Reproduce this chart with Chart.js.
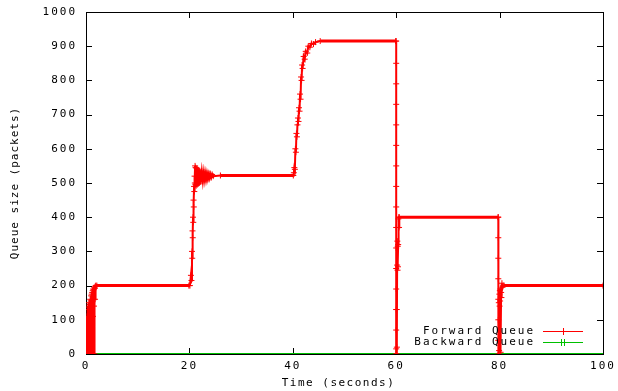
<!DOCTYPE html>
<html><head><meta charset="utf-8">
<script src="https://cdn.jsdelivr.net/npm/chart.js@4.4.0/dist/chart.umd.min.js"></script>
<style>html,body{margin:0;padding:0;background:#fff;}</style>
</head><body>
<canvas id="c" width="618" height="391"></canvas>
<script>
const xTicks = [0, 20, 40, 60, 80, 100];
const yTicks = [0, 100, 200, 300, 400, 500, 600, 700, 800, 900, 1000];

const fwdTime = [
  0.05, 0.1, 0.15, 0.2, 0.25, 0.3, 0.35, 0.4, 0.45, 0.5, 0.55, 0.6, 0.65, 0.7, 0.75, 0.8, 0.85, 0.9, 0.95, 1.0,
  1.05, 1.1, 1.15, 1.2, 1.25, 1.3, 1.35, 1.4, 1.45, 1.5, 1.55, 1.6, 1.65, 1.7, 1.75, 1.8, 1.9, 2.1,
  19.9, 20.1, 20.3, 20.4, 20.5, 20.55, 20.6, 20.65, 20.7, 20.75, 20.8, 20.85, 20.9, 20.95, 21.0, 21.05, 21.1, 21.15, 21.2,
  21.3, 21.4, 21.5, 21.6, 21.7, 21.8, 21.9, 22.0, 22.2, 22.4, 22.6, 22.8, 23.0, 23.2, 23.4, 23.6, 23.8, 24.0, 24.2, 24.4, 24.6, 26.0,
  40.1, 40.2, 40.3, 40.4, 40.5, 40.6, 40.7, 40.8, 40.9, 41.0, 41.1, 41.2, 41.3, 41.4, 41.5, 41.6, 41.7, 41.8, 41.9,
  42.1, 42.3, 42.5, 42.8, 43.0, 43.3, 43.6, 44.0, 44.4, 45.3,
  59.9, 60.0, 60.0, 60.0, 60.0, 60.0, 60.0, 60.0, 60.0, 60.0, 60.0, 60.0, 60.0, 60.0, 60.0, 60.0, 60.0, 60.0,
  60.05, 60.1, 60.13, 60.18, 60.22, 60.26, 60.3, 60.34, 60.38, 60.42, 60.5, 60.55, 60.6,
  79.7, 79.75, 79.75, 79.75, 79.75, 79.75, 79.75, 79.75,
  79.8, 79.85, 79.9, 79.95, 80.0, 80.05, 80.1, 80.15, 80.2, 80.3, 80.35, 80.45, 80.55, 80.7, 100
];
const fwdSize = [
  0, 60, 0, 110, 0, 130, 10, 140, 0, 135, 20, 150, 0, 145, 30, 160, 0, 155, 50, 170,
  0, 175, 80, 180, 0, 185, 110, 190, 0, 188, 140, 195, 0, 192, 160, 198, 200, 200,
  200, 200, 230, 215, 300, 280, 360, 340, 400, 385, 450, 430, 490, 475, 520, 500, 550, 495, 545,
  492, 542, 495, 540, 498, 538, 500, 536, 503, 534, 505, 532, 508, 530, 510, 528, 513, 527, 516, 525, 520, 522,
  522, 530, 545, 540, 600, 590, 645, 635, 670, 690, 680, 720, 710, 760, 745, 810, 800, 845, 835,
  870, 862, 885, 880, 900, 897, 908, 906, 912, 915,
  915, 915, 850, 790, 730, 670, 610, 550, 490, 430, 370, 310, 250, 190, 130, 70, 15, 0,
  0, 130, 20, 260, 330, 245, 315, 255, 320, 395, 400, 370, 400,
  400, 400, 340, 280, 220, 160, 100, 40,
  0, 150, 10, 175, 140, 185, 155, 190, 5, 180, 165, 207, 195, 200, 200
];
const bwdTime = [0, 10, 20, 30, 40, 50, 60, 70, 80, 90, 100];
const bwdSize = [0, 0, 0, 0, 0, 0, 0, 0, 0, 0, 0];

const seriesNames = ['Forward Queue', 'Backward Queue'];
const seriesColors = ['#ff0000', '#00c000'];
const FONT = '"DejaVu Sans Mono", "Liberation Mono", monospace';
const FSIZE = 11;

const spacingPlugin = {
  id: 'spacing',
  beforeUpdate(chart) { chart.ctx.letterSpacing = '2px'; },
  afterLayout(chart) {
    const ctx = chart.ctx;
    const xs = chart.scales.x, ys = chart.scales.y;
    if (!xs._gpPatched) {
      const orig = xs.drawTitle;
      xs.drawTitle = function () {
        ctx.save(); ctx.letterSpacing = '1.5px'; ctx.translate(-6, 0);
        orig.apply(this, arguments);
        ctx.restore();
      };
      xs._gpPatched = true;
    }
    if (!ys._gpPatched) {
      const orig = ys.drawTitle;
      ys.drawTitle = function () {
        ctx.save(); ctx.letterSpacing = '1px';
        orig.apply(this, arguments);
        ctx.restore();
      };
      ys._gpPatched = true;
    }
  },
  beforeDraw(chart) { chart.ctx.letterSpacing = '2px'; }
};

const framePlugin = {
  id: 'frame',
  beforeDatasetsDraw(chart) {
    const {ctx, chartArea: a, scales} = chart;
    ctx.save();
    ctx.strokeStyle = '#000';
    ctx.lineWidth = 1;
    ctx.beginPath();
    const L = 6;
    scales.x.ticks.forEach(t => {
      const px = Math.round(scales.x.getPixelForValue(t.value)) + 0.5;
      ctx.moveTo(px, a.bottom); ctx.lineTo(px, a.bottom - L);
      ctx.moveTo(px, a.top); ctx.lineTo(px, a.top + L);
    });
    scales.y.ticks.forEach(t => {
      const py = Math.round(scales.y.getPixelForValue(t.value)) + 0.5;
      ctx.moveTo(a.left, py); ctx.lineTo(a.left + L, py);
      ctx.moveTo(a.right, py); ctx.lineTo(a.right - L, py);
    });
    ctx.stroke();
    ctx.strokeRect(Math.round(a.left) + 0.5, Math.round(a.top) + 0.5, Math.round(a.right - a.left), Math.round(a.bottom - a.top));
    ctx.restore();
  }
};

const legendPlugin = {
  id: 'gpLegend',
  afterDraw(chart) {
    const {ctx, chartArea: a} = chart;
    ctx.save();
    ctx.letterSpacing = '2px';
    ctx.font = FSIZE + 'px ' + FONT;
    ctx.textAlign = 'right';
    ctx.textBaseline = 'middle';
    const rows = [a.bottom - 23, a.bottom - 12];
    rows.forEach((y, i) => {
      ctx.fillStyle = '#000';
      ctx.fillText(seriesNames[i], a.right - 68, y);
      ctx.strokeStyle = seriesColors[i];
      ctx.lineWidth = 1;
      ctx.beginPath();
      ctx.moveTo(a.right - 60, y + 0.5); ctx.lineTo(a.right - 20, y + 0.5);
      const mx = a.right - 40;
      if (i === 0) {
        ctx.moveTo(mx + 0.5, y - 3); ctx.lineTo(mx + 0.5, y + 4);
      } else {
        ctx.moveTo(mx - 2 + 0.5, y - 3); ctx.lineTo(mx - 2 + 0.5, y + 4);
        ctx.moveTo(mx + 1 + 0.5, y - 3); ctx.lineTo(mx + 1 + 0.5, y + 4);
      }
      ctx.stroke();
    });
    ctx.restore();
  }
};

new Chart(document.getElementById('c'), {
  type: 'line',
  data: {
    datasets: [
      {
        label: seriesNames[0],
        data: fwdTime.map((t, i) => ({x: t, y: fwdSize[i]})),
        borderColor: seriesColors[0],
        backgroundColor: seriesColors[0],
        borderWidth: 2,
        pointStyle: 'cross',
        pointRadius: 3,
        pointBorderWidth: 1,
        pointBorderColor: seriesColors[0],
        tension: 0,
        segment: { borderWidth: c => (c.p0.parsed.y === c.p1.parsed.y ? 3 : 2) }
      },
      {
        label: seriesNames[1],
        data: bwdTime.map((t, i) => ({x: t, y: bwdSize[i]})),
        borderColor: seriesColors[1],
        backgroundColor: seriesColors[1],
        borderWidth: 2,
        pointRadius: 0,
        tension: 0
      }
    ]
  },
  options: {
    responsive: false,
    animation: false,
    devicePixelRatio: 1,
    layout: { padding: { top: 12, right: 15, left: 0, bottom: 0 } },
    plugins: { legend: { display: false }, tooltip: { enabled: false } },
    scales: {
      x: {
        type: 'linear', min: 0, max: 100,
        afterBuildTicks: s => { s.ticks = xTicks.map(v => ({value: v})); },
        afterFit: s => { s.height = 37; s.paddingLeft = 0; s.paddingRight = 0; },
        grid: { display: false, drawTicks: false },
        border: { display: false },
        ticks: { color: '#000', font: { family: FONT, size: FSIZE }, padding: 6, maxRotation: 0, autoSkip: false, callback: v => String(v) },
        title: { display: true, text: 'Time (seconds)', color: '#000', font: { family: FONT, size: FSIZE }, padding: { top: 2, bottom: 1 } }
      },
      y: {
        type: 'linear', min: 0, max: 1000,
        afterBuildTicks: s => { s.ticks = yTicks.map(v => ({value: v})); },
        afterFit: s => { s.width = 86; s.paddingTop = 0; s.paddingBottom = 0; },
        grid: { display: false, drawTicks: false },
        border: { display: false },
        ticks: { color: '#000', font: { family: FONT, size: FSIZE }, padding: 9, autoSkip: false, callback: v => String(v) },
        title: { display: true, text: 'Queue size (packets)', color: '#000', font: { family: FONT, size: FSIZE }, padding: { top: 9, bottom: 2 } }
      }
    }
  },
  plugins: [spacingPlugin, framePlugin, legendPlugin]
});
</script>
</body></html>
